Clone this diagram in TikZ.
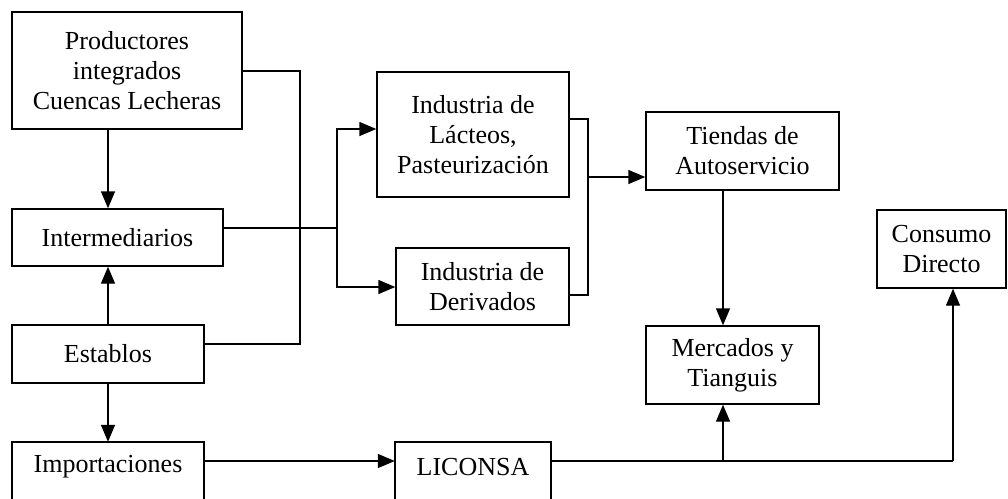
\documentclass[tikz,border=0pt]{standalone}
\usepackage{fontspec}
\setmainfont{Liberation Serif}
\usetikzlibrary{arrows.meta,calc}
\begin{document}
\begin{tikzpicture}[x=1pt,y=-1pt,
  box/.style={draw, line width=1.4pt, inner sep=0pt, align=center,
    font=\fontsize{26}{30}\selectfont},
  lab/.style={inner sep=0pt, align=center, font=\fontsize{26}{30}\selectfont},
  conn/.style={line width=1.4pt},
  arr/.style={conn, -{Triangle[length=17pt,width=14pt]}}]
\useasboundingbox (0,0) rectangle (1008,498);
% nodes
\node[box, minimum width=230pt, minimum height=117pt] (prod) at (127,70.5) {Productores\\integrados\\Cuencas Lecheras};
\node[box, minimum width=211pt, minimum height=57pt] (inter) at (117.5,237.5) {Intermediarios};
\node[box, minimum width=192pt, minimum height=58pt] (est) at (108,354) {Establos};
\node[lab, minimum width=192pt, minimum height=50pt] (imp) at (108,467) {Importaciones};
\draw[conn] (12,515) -- (12,442) -- (204,442) -- (204,515);
\node[box, minimum width=192pt, minimum height=125pt] (lac) at (473,134.5) {Industria de\\Lácteos,\\Pasteurización};
\node[box, minimum width=173pt, minimum height=77pt] (der) at (482.5,286.5) {Industria de\\Derivados};
\node[lab, minimum width=156pt, minimum height=50pt] (lic) at (473,467) {LICONSA};
\draw[conn] (395,515) -- (395,442) -- (551,442) -- (551,515);
\node[box, minimum width=193pt, minimum height=78pt] (tie) at (742.5,151) {Tiendas de\\Autoservicio};
\node[box, minimum width=173pt, minimum height=78pt] (mer) at (732.5,365) {Mercados y\\Tianguis};
\node[box, minimum width=129pt, minimum height=78pt] (con) at (941.5,249) {Consumo\\Directo};
% junction coordinates
\coordinate (j1) at (300,344);
\coordinate (j2) at (337,228);
\coordinate (j3) at (588,177);
\coordinate (j4) at (723,461);
\coordinate (j5) at (953,461);
% connectors
\draw[arr] (prod.south -| est.north) -- (inter.north -| est.north);
\draw[arr] (est.north) -- (inter.south -| est.north);
\draw[arr] (est.south) -- (imp.north -| est.south);
\draw[conn] (prod.east |- 0,71) -| (j1) -- (est.east |- j1);
\draw[conn] (inter.east |- j2) -- (j2);
\draw[arr] (j2) |- (lac.west |- 0,129);
\draw[arr] (j2) |- (der.west |- 0,287);
\draw[conn] (lac.east |- 0,119) -| (j3) |- (der.east |- 0,295);
\draw[arr] (j3) -- (tie.west |- j3);
\draw[arr] (tie.south -| j4) -- (mer.north -| j4);
\draw[arr] (imp.east |- 0,461) -- (lic.west |- 0,461);
\draw[conn] (lic.east |- j4) -- (j5);
\draw[arr] (j4) -- (mer.south -| j4);
\draw[arr] (j5) -- (con.south -| j5);
\end{tikzpicture}
\end{document}
